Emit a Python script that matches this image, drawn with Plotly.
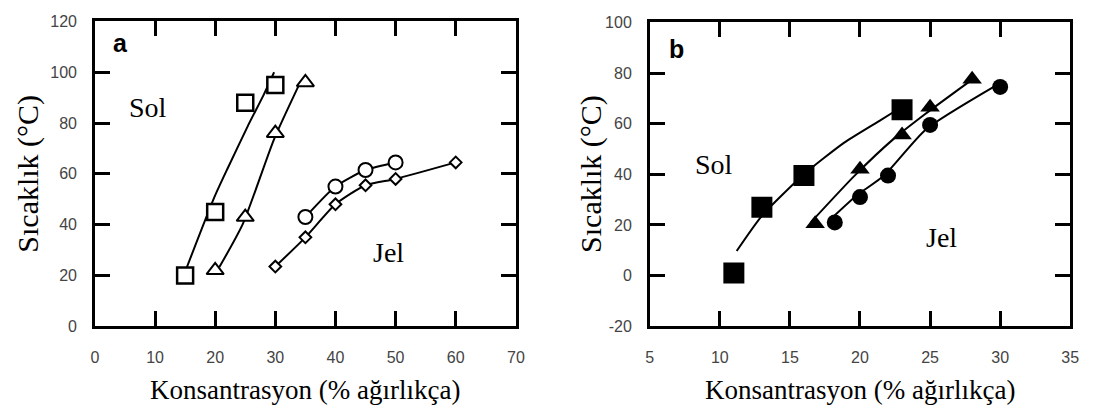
import plotly.graph_objects as go

# ---------------- Panel a data ----------------
a_sq_x = [15, 20, 25, 30]
a_sq_y = [20, 45, 88, 95]
a_sq_fit_x = [15.3, 19.9, 22.1, 25.4, 28.1, 29.8]
a_sq_fit_y = [23.3, 51, 62.3, 78.7, 91.3, 100]

a_tri_x = [20, 25, 30, 35]
a_tri_y = [22, 43, 76, 96]
a_tri_fit_x = [20.7, 24.6, 29.8, 34.2]
a_tri_fit_y = [23.3, 40.3, 73.7, 96.3]

a_cir_x = [35, 40, 45, 50]
a_cir_y = [43, 55, 61.5, 64.5]

a_dia_x = [30, 35, 40, 45, 50, 60]
a_dia_y = [23.5, 35, 48, 55.5, 58, 64.5]

# ---------------- Panel b data ----------------
b_sq_x = [11, 13, 16, 23]
b_sq_y = [1, 27, 39.5, 65.5]
b_sq_fit_x = [11.2, 13, 16, 18.9, 21.5, 22.6]
b_sq_fit_y = [9.7, 23.6, 40, 52.6, 61.5, 65.3]

b_tri_x = [16.8, 20, 23, 25, 28]
b_tri_y = [20.5, 42, 55.5, 66.5, 77.5]
b_tri_fit_x = [16.5, 19.6, 22.4, 24.7, 27.8]
b_tri_fit_y = [21.1, 39.4, 54, 64, 76.6]

b_cir_x = [18.2, 20, 22, 25, 30]
b_cir_y = [21, 31, 39.5, 59.5, 74.5]
b_cir_fit_x = [17.8, 19.8, 21.7, 24.7, 29.6]
b_cir_fit_y = [21.7, 31.8, 39.4, 57.7, 74.7]

# ticks / labels
a_xticks = [0, 10, 20, 30, 40, 50, 60, 70]
a_yticks = [0, 20, 40, 60, 80, 100, 120]
b_xticks = [5, 10, 15, 20, 25, 30, 35]
b_yticks = [-20, 0, 20, 40, 60, 80, 100]
x_title = "Konsantrasyon (% ağırlıkça)"
y_title = "Sıcaklık (°C)"

fig = go.Figure()

LINE = dict(color="black", width=2)


def line(x, y, xa, ya):
    fig.add_trace(go.Scatter(x=x, y=y, mode="lines", line=dict(LINE, shape="spline", smoothing=0.6),
                             xaxis=xa, yaxis=ya, hoverinfo="skip", showlegend=False))


def mark(x, y, xa, ya, symbol, size, fill, lw, mode="markers"):
    fig.add_trace(go.Scatter(x=x, y=y, mode=mode, line=dict(LINE, shape="spline", smoothing=0.6),
                             xaxis=xa, yaxis=ya,
                             marker=dict(symbol=symbol, size=size, color=fill,
                                         line=dict(color="black", width=lw)),
                             showlegend=False))


# panel a
line(a_sq_fit_x, a_sq_fit_y, "x", "y")
line(a_tri_fit_x, a_tri_fit_y, "x", "y")
mark(a_dia_x, a_dia_y, "x", "y", "diamond", 9, "white", 2, mode="lines+markers")
mark(a_cir_x, a_cir_y, "x", "y", "circle", 14, "white", 2, mode="lines+markers")
mark(a_sq_x, a_sq_y, "x", "y", "square", 16, "white", 2.5)
mark(a_tri_x, a_tri_y, "x", "y", "triangle-up", 15, "white", 2)

# panel b
line(b_sq_fit_x, b_sq_fit_y, "x2", "y2")
line(b_tri_fit_x, b_tri_fit_y, "x2", "y2")
line(b_cir_fit_x, b_cir_fit_y, "x2", "y2")
mark(b_sq_x, b_sq_y, "x2", "y2", "square", 21, "black", 0)
mark(b_tri_x, b_tri_y, "x2", "y2", "triangle-up", 17, "black", 0)
mark(b_cir_x, b_cir_y, "x2", "y2", "circle", 16, "black", 0)

TICKFONT = dict(family="Liberation Sans", size=16, color="#444")


def ax(domain, rng, ticks, anchor, standoff):
    return dict(domain=domain, range=rng, tickvals=ticks, ticktext=[str(t) for t in ticks],
                showline=True, linecolor="black", linewidth=2.5, mirror="ticks",
                ticks="inside", ticklen=15, tickwidth=2.5, tickcolor="black",
                showgrid=False, zeroline=False, anchor=anchor, tickfont=TICKFONT,
                ticklabelstandoff=standoff)


W, H = 1099, 419
fig.update_layout(
    width=W, height=H, margin=dict(l=0, r=0, t=0, b=0),
    plot_bgcolor="white", paper_bgcolor="white",
    xaxis=ax([92 / W, 518 / W], [0, 70], a_xticks, "y", 15),
    yaxis=ax([1 - 331.7 / H, 1 - 14 / H], [0, 120], a_yticks, "x", 12),
    xaxis2=ax([653.5 / W, 1079 / W], [5, 35], b_xticks, "y2", 15),
    yaxis2=ax([1 - 331.7 / H, 1 - 15 / H], [-20, 100], b_yticks, "x2", 12),
)

SERIF = "Liberation Serif"
ann = []
# axis titles
for cx in (305, 866):
    ann.append(dict(x=cx / W, y=1 - 398 / H, xref="paper", yref="paper", text=x_title,
                    showarrow=False, font=dict(family=SERIF, size=27, color="black"),
                    xanchor="center", yanchor="middle"))
for cx in (24, 594):
    ann.append(dict(x=cx / W, y=1 - 173 / H, xref="paper", yref="paper", text=y_title,
                    showarrow=False, textangle=-90,
                    font=dict(family=SERIF, size=30, color="black"),
                    xanchor="center", yanchor="middle"))
# panel labels
ann.append(dict(x=4.2, y=111.5, xref="x", yref="y", text="<b>a</b>", showarrow=False,
                font=dict(family="Liberation Sans", size=25, color="black")))
ann.append(dict(x=6.9, y=89.5, xref="x2", yref="y2", text="<b>b</b>", showarrow=False,
                font=dict(family="Liberation Sans", size=25, color="black")))
# region labels
for x, y, t, xr, yr in [(8.9, 86, "Sol", "x", "y"), (48.9, 29, "Jel", "x", "y"),
                        (9.55, 44, "Sol", "x2", "y2"), (25.8, 15, "Jel", "x2", "y2")]:
    ann.append(dict(x=x, y=y, xref=xr, yref=yr, text=t, showarrow=False,
                    font=dict(family=SERIF, size=28, color="black")))
fig.update_layout(annotations=ann)

fig.write_html("out.html")
